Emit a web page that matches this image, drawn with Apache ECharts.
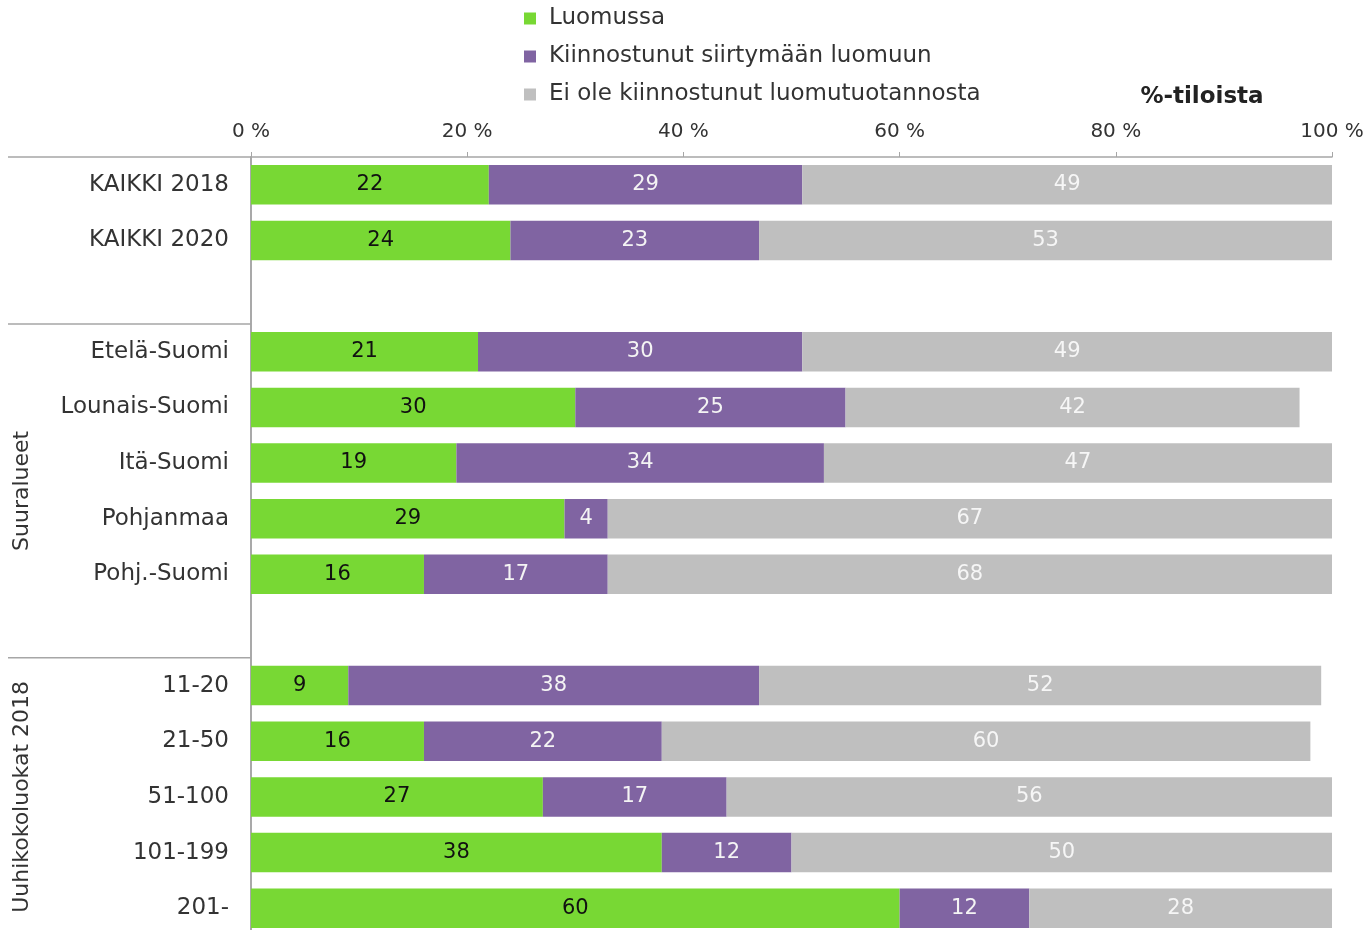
<!DOCTYPE html>
<html>
<head>
<meta charset="utf-8">
<style>
  html, body { margin: 0; padding: 0; background: #fff; overflow: hidden; }
  /* the canvas is a little taller than the window; the last row is cut at the window edge */
  #chart { width: 1371px; height: 940px; }
</style>
<script src="https://cdn.jsdelivr.net/npm/echarts@6/dist/echarts.min.js"></script>
</head>
<body>
<div id="chart"></div>
<script>
// Rows, top to bottom; empty strings are spacer rows between groups
const categories = ['KAIKKI 2018', 'KAIKKI 2020', '',
  'Etelä-Suomi', 'Lounais-Suomi', 'Itä-Suomi', 'Pohjanmaa', 'Pohj.-Suomi', '',
  '11-20', '21-50', '51-100', '101-199', '201-'];
const luomussa       = [22, 24, null, 21, 30, 19, 29, 16, null, 9, 16, 27, 38, 60];
const kiinnostunut   = [29, 23, null, 30, 25, 34, 4, 17, null, 38, 22, 17, 12, 12];
const eiKiinnostunut = [49, 53, null, 49, 42, 47, 67, 68, null, 52, 60, 56, 50, 28];
const seriesNames = ['Luomussa', 'Kiinnostunut siirtymään luomuun', 'Ei ole kiinnostunut luomutuotannosta'];
const groups = [
  { name: 'Suuralueet', from: 3, to: 7 },
  { name: 'Uuhikokoluokat 2018', from: 9, to: 13 }
];
const xTicks = [0, 20, 40, 60, 80, 100];

const FONT = '"DejaVu Sans", Verdana, sans-serif';
const colors = ['#78d834', '#8064a2', '#bfbfbf'];
const labelColors = ['#111111', '#f4f4f4', '#f6f6f6'];

const chart = echarts.init(document.getElementById('chart'), null, { renderer: 'canvas' });

function barSeries(i, data) {
  return {
    name: seriesNames[i],
    type: 'bar',
    stack: 'total',
    data: data,
    barWidth: '71%',
    itemStyle: { color: colors[i] },
    label: {
      show: true,
      position: 'inside',
      color: labelColors[i],
      fontFamily: FONT,
      fontSize: 21
    },
    emphasis: { disabled: true }
  };
}

chart.setOption({
  animation: false,
  textStyle: { fontFamily: FONT },
  legend: {
    orient: 'vertical',
    left: 519,
    top: 2,
    itemWidth: 12,
    itemHeight: 12,
    itemGap: 15,
    icon: 'rect',
    textStyle: { fontFamily: FONT, fontSize: 23, color: '#333', padding: [0, 0, 0, 8] },
    data: seriesNames
  },
  grid: { left: 251, right: 39, top: 157, height: 779, containLabel: false },
  xAxis: {
    type: 'value',
    position: 'top',
    min: xTicks[0],
    max: xTicks[xTicks.length - 1],
    interval: xTicks[1] - xTicks[0],
    axisLine: { show: true, lineStyle: { color: '#a6a6a6', width: 1.5 } },
    axisTick: { show: true, length: 5, lineStyle: { color: '#a6a6a6' } },
    splitLine: { show: false },
    axisLabel: {
      formatter: '{value} %',
      fontFamily: FONT,
      fontSize: 20,
      color: '#333',
      margin: 15
    }
  },
  yAxis: {
    type: 'category',
    inverse: true,
    data: categories,
    axisLine: { show: true, lineStyle: { color: '#8c8c8c', width: 1.5 } },
    axisTick: { show: false },
    axisLabel: { fontFamily: FONT, fontSize: 23, color: '#333', margin: 22 }
  },
  series: [
    barSeries(0, luomussa),
    barSeries(1, kiinnostunut),
    barSeries(2, eiKiinnostunut)
  ]
});

// Separator lines and rotated group titles on the left, placed from the category scale
function rowCenter(i) { return chart.convertToPixel({ yAxisIndex: 0 }, i); }
const step = rowCenter(1) - rowCenter(0);
const gridLeft = chart.convertToPixel({ xAxisIndex: 0 }, 0);
const topEdge = rowCenter(0) - step / 2;
const bottomEdge = rowCenter(categories.length - 1) + step / 2;

const elements = [];
const lineStyle = { stroke: '#a6a6a6', lineWidth: 1.5 };
elements.push({ type: 'line', shape: { x1: 8, y1: topEdge, x2: gridLeft, y2: topEdge }, style: lineStyle, z: 10 });
groups.forEach(function (g, k) {
  const y0 = rowCenter(g.from) - step / 2;
  elements.push({ type: 'line', shape: { x1: 8, y1: y0, x2: gridLeft, y2: y0 }, style: lineStyle, z: 10 });
  const nextStart = k + 1 < groups.length ? rowCenter(groups[k + 1].from) - step / 2 : bottomEdge;
  const yc = (y0 + nextStart) / 2;
  elements.push({
    type: 'text',
    x: 22,
    y: yc,
    rotation: Math.PI / 2,
    style: {
      text: g.name,
      fontFamily: FONT,
      fontSize: 22,
      fill: '#333',
      align: 'center',
      verticalAlign: 'middle'
    },
    z: 10
  });
});
elements.push({
  type: 'text',
  x: 1202,
  y: 97,
  style: {
    text: '%-tiloista',
    fontFamily: FONT,
    fontSize: 23,
    fontWeight: 'bold',
    fill: '#222',
    align: 'center',
    verticalAlign: 'middle'
  },
  z: 10
});
chart.setOption({ graphic: { elements: elements } });
</script>
</body>
</html>
